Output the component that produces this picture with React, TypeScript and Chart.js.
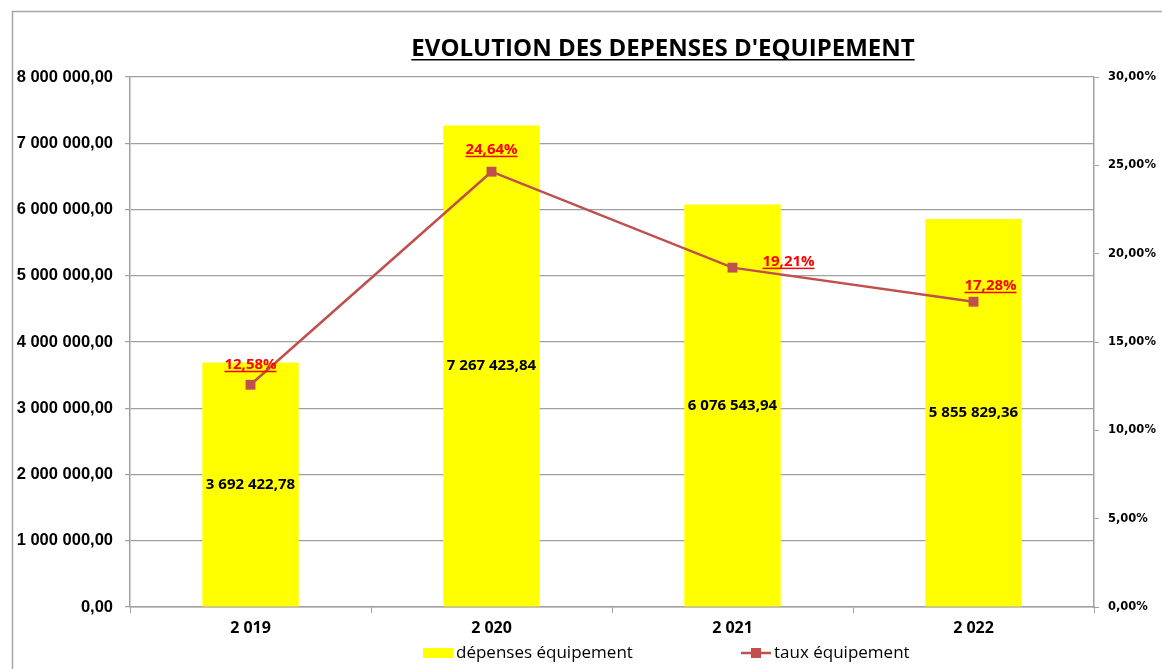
import React, { useEffect, useRef } from 'react';
import { Chart, registerables } from 'chart.js';

Chart.register(...registerables);

const years = ['2 019', '2 020', '2 021', '2 022'];
const depenses = [3692422.78, 7267423.84, 6076543.94, 5855829.36];
const taux = [12.58, 24.64, 19.21, 17.28];
const seriesNames = ['dépenses équipement', 'taux équipement'];
const chartTitle = "EVOLUTION DES DEPENSES D'EQUIPEMENT";
// label centre offsets (px) from each line point
const lineLabelOffsets = [[0, -21], [0, -23], [56, -7], [17, -17]];

const BAR_COLOR = '#FFFF00';
const LINE_COLOR = '#C0504D';
const GRID = '#A0A0A0';

function fmtMoney(v: number) {
  const [i, d] = v.toFixed(2).split('.');
  return i.replace(/\B(?=(\d{3})+(?!\d))/g, ' ') + ',' + d;
}
function fmtPct(v: number) {
  return v.toFixed(2).replace('.', ',') + '%';
}

function underlined(ctx: CanvasRenderingContext2D, text: string, x: number, y: number, thick: number, gap: number) {
  ctx.textAlign = 'center';
  ctx.textBaseline = 'alphabetic';
  ctx.fillText(text, x, y);
  const w = ctx.measureText(text).width;
  ctx.fillRect(x - w / 2, y + gap, w, thick);
}

const decor = {
  id: 'decor',
  beforeDraw(chart: any) {
    const ctx = chart.ctx;
    ctx.save();
    ctx.fillStyle = '#ffffff';
    ctx.fillRect(0, 0, chart.width, chart.height);
    ctx.strokeStyle = '#A6A6A6';
    ctx.lineWidth = 1.5;
    ctx.strokeRect(12.5, 11.5, chart.width + 40, chart.height + 40);
    ctx.restore();
  },
  afterDatasetsDraw(chart: any) {
    const ctx = chart.ctx;
    ctx.save();
    const barMeta = chart.getDatasetMeta(0);
    ctx.fillStyle = '#000000';
    ctx.font = 'bold 15px "Open Sans"';
    ctx.textAlign = 'center';
    ctx.textBaseline = 'middle';
    barMeta.data.forEach((el: any, i: number) => {
      const cy = (el.y + el.base) / 2;
      ctx.fillText(fmtMoney(depenses[i]), el.x, cy);
    });
    const lineMeta = chart.getDatasetMeta(1);
    ctx.fillStyle = '#FF0000';
    ctx.font = 'bold 15px "Open Sans"';
    lineMeta.data.forEach((el: any, i: number) => {
      const [dx, dy] = lineLabelOffsets[i];
      underlined(ctx, fmtPct(taux[i]), el.x + dx, el.y + dy + 5, 1.5, 2);
    });
    ctx.restore();
  },
  afterDraw(chart: any) {
    const ctx = chart.ctx;
    ctx.save();
    // title
    ctx.fillStyle = '#000000';
    ctx.font = 'bold 24px "Open Sans"';
    underlined(ctx, chartTitle, 663, 56, 1.5, 3);
    // legend
    const ly = 653;
    ctx.fillStyle = BAR_COLOR;
    ctx.fillRect(423, ly - 5, 30, 10);
    ctx.fillStyle = '#000000';
    ctx.font = '17px "Open Sans"';
    ctx.textAlign = 'left';
    ctx.textBaseline = 'middle';
    ctx.fillText(seriesNames[0], 456, ly);
    ctx.strokeStyle = LINE_COLOR;
    ctx.lineWidth = 2.5;
    ctx.beginPath();
    ctx.moveTo(741, ly);
    ctx.lineTo(771, ly);
    ctx.stroke();
    ctx.fillStyle = LINE_COLOR;
    ctx.fillRect(751, ly - 5, 10, 10);
    ctx.fillStyle = '#000000';
    ctx.fillText(seriesNames[1], 774, ly);
    ctx.restore();
  },
};

export default function App() {
  const ref = useRef<HTMLCanvasElement>(null);
  useEffect(() => {
    if (!ref.current) return;
    const chart = new Chart(ref.current, {
      type: 'bar',
      data: {
        labels: years,
        datasets: [
          {
            type: 'bar',
            label: seriesNames[0],
            data: depenses,
            backgroundColor: BAR_COLOR,
            borderWidth: 0,
            barPercentage: 0.4,
            categoryPercentage: 1,
            yAxisID: 'y',
            order: 2,
          } as any,
          {
            type: 'line',
            label: seriesNames[1],
            data: taux,
            borderColor: LINE_COLOR,
            backgroundColor: LINE_COLOR,
            borderWidth: 2.5,
            pointStyle: 'rect',
            pointRadius: 7,
            pointBorderWidth: 0,
            tension: 0,
            yAxisID: 'y1',
            order: 1,
          } as any,
        ],
      },
      options: {
        animation: false,
        responsive: false,
        maintainAspectRatio: false,
        layout: { padding: { top: 77, left: 0, right: 0, bottom: 0 } },
        plugins: {
          legend: { display: false },
          title: { display: false },
          tooltip: { enabled: false },
        },
        scales: {
          x: {
            offset: true,
            grid: { offset: true, drawOnChartArea: false, color: GRID, tickLength: 6 },
            border: { color: GRID, width: 1.5 },
            ticks: { color: '#000', font: { family: '"Open Sans"', size: 16, weight: 'bold' }, padding: 6 },
            afterFit: (s: any) => { s.height = 62; },
          },
          y: {
            position: 'left',
            min: 0,
            max: 8000000,
            ticks: {
              stepSize: 1000000,
              color: '#000',
              padding: 12,
              font: { family: '"Liberation Sans"', size: 16.5, weight: 'bold' },
              callback: (v: any) => fmtMoney(Number(v)),
            },
            grid: { color: GRID, tickLength: 5, lineWidth: 1.2 },
            border: { color: GRID, width: 1.5 },
            afterFit: (s: any) => { s.width = 130; },
          },
          y1: {
            position: 'right',
            min: 0,
            max: 30,
            ticks: {
              stepSize: 5,
              color: '#000',
              padding: 9,
              font: { family: '"DejaVu Sans"', size: 11.5, weight: 'bold' },
              callback: (v: any) => fmtPct(Number(v)),
            },
            grid: { drawOnChartArea: false, color: GRID, tickLength: 5 },
            border: { color: GRID, width: 1.5 },
            afterFit: (s: any) => { s.width = 68; },
          },
        },
      },
      plugins: [decor],
    });
    return () => chart.destroy();
  }, []);
  return (
    <div style={{ position: 'absolute', left: 0, top: 0, width: 1162, height: 669 }}>
      <canvas ref={ref} width={1162} height={669} style={{ display: 'block' }} />
    </div>
  );
}
